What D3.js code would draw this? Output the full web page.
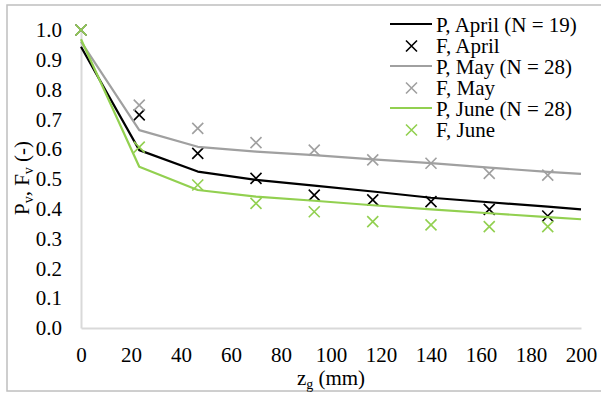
<!DOCTYPE html>
<html>
<head>
<meta charset="utf-8">
<script src="https://cdn.jsdelivr.net/npm/d3@7"></script>
<style>
  body { margin: 0; background: #fff; }
  text { font-family: "Liberation Serif", "Times New Roman", serif; }
</style>
</head>
<body>
<svg id="chart" width="601" height="396"></svg>
<script>
// depths of the measured points (mm) and of the model curve
var zPoints = [0, 23.3, 46.7, 70, 93.3, 116.7, 140, 163.3, 186.7];
var zModel = [0, 23.3, 46.7, 70, 93.3, 116.7, 140, 163.3, 186.7, 200];

var pApril = [0.944, 0.597, 0.525, 0.497, 0.478, 0.458, 0.437, 0.422, 0.407, 0.398];
var pMay = [0.961, 0.664, 0.608, 0.592, 0.580, 0.566, 0.553, 0.538, 0.524, 0.517];
var pJune = [0.969, 0.541, 0.463, 0.441, 0.427, 0.412, 0.398, 0.385, 0.372, 0.365];

var fApril = [1.0, 0.715, 0.586, 0.502, 0.446, 0.430, 0.424, 0.398, 0.376];
var fMay = [1.0, 0.748, 0.670, 0.622, 0.597, 0.564, 0.553, 0.519, 0.513];
var fJune = [1.0, 0.607, 0.480, 0.418, 0.390, 0.357, 0.346, 0.340, 0.340];

var xTicks = [0, 20, 40, 60, 80, 100, 120, 140, 160, 180, 200];
var yTicks = [0, 0.1, 0.2, 0.3, 0.4, 0.5, 0.6, 0.7, 0.8, 0.9, 1.0];

var legendLabels = ["P, April (N = 19)", "F, April", "P, May (N = 28)", "F, May", "P, June (N = 28)", "F, June"];

var black = "#000000", grey = "#a0a0a0", green = "#92d050";
var serif = "Liberation Serif";

var svg = d3.select("#chart");

svg.append("rect")
  .attr("x", 7).attr("y", 5).attr("width", 600).attr("height", 386)
  .attr("fill", "none").attr("stroke", "#bfbfbf").attr("stroke-width", 1.5);

var x = d3.scaleLinear().domain([0, 200]).range([81, 581]);
var y = d3.scaleLinear().domain([0, 1]).range([328, 30]);

// axes
var xAxis = svg.append("g").attr("transform", "translate(0,328)")
  .call(d3.axisBottom(x).tickValues(xTicks).tickSize(0).tickPadding(19).tickSizeOuter(0));
xAxis.attr("font-family", serif);
xAxis.select(".domain").attr("stroke", "#d9d9d9").attr("stroke-width", 2);
xAxis.selectAll("text").attr("font-size", 21).attr("fill", "#000");

var yAxis = svg.append("g").attr("transform", "translate(81,0)")
  .call(d3.axisLeft(y).tickValues(yTicks).tickFormat(d3.format(".1f")).tickSize(0).tickPadding(19).tickSizeOuter(0));
yAxis.attr("font-family", serif);
yAxis.select(".domain").attr("stroke", "#d9d9d9").attr("stroke-width", 2);
yAxis.selectAll("text").attr("font-size", 21).attr("fill", "#000");

// axis titles
var xt = svg.append("text").attr("x", 331).attr("y", 385)
  .attr("text-anchor", "middle").attr("font-family", serif).attr("font-size", 21);
xt.append("tspan").text("z");
xt.append("tspan").attr("font-size", 14).attr("dy", 4).text("g");
xt.append("tspan").attr("dy", -4).text(" (mm)");

var yt = svg.append("text").attr("transform", "translate(29,178) rotate(-90)")
  .attr("text-anchor", "middle").attr("font-family", serif).attr("font-size", 21);
yt.append("tspan").text("P");
yt.append("tspan").attr("font-size", 14).attr("dy", 4).text("v");
yt.append("tspan").attr("dy", -4).text(", F");
yt.append("tspan").attr("font-size", 14).attr("dy", 4).text("v");
yt.append("tspan").attr("dy", -4).text(" (-)");

var line = d3.line()
  .x(function(d, i) { return x(zModel[i]); })
  .y(function(d) { return y(d); });

function cross(g, cx, cy, color) {
  var s = 5.5;
  g.append("path")
    .attr("d", "M" + (cx - s) + "," + (cy - s) + "L" + (cx + s) + "," + (cy + s) +
               "M" + (cx - s) + "," + (cy + s) + "L" + (cx + s) + "," + (cy - s))
    .attr("stroke", color).attr("stroke-width", 1.6).attr("fill", "none");
}

var series = [
  { p: pApril, f: fApril, color: black },
  { p: pMay, f: fMay, color: grey },
  { p: pJune, f: fJune, color: green }
];

var plot = svg.append("g");
series.forEach(function(s) {
  plot.append("path").datum(s.p)
    .attr("d", line)
    .attr("fill", "none").attr("stroke", s.color).attr("stroke-width", 2.2)
    .attr("stroke-linejoin", "round");
  s.f.forEach(function(v, i) {
    cross(plot, x(zPoints[i]), y(v), s.color);
  });
});

// legend
var legend = svg.append("g");
legendLabels.forEach(function(label, i) {
  var base = 31.5 + i * 21;
  var color = series[Math.floor(i / 2)].color;
  if (i % 2 === 0) {
    legend.append("line")
      .attr("x1", 390).attr("x2", 432).attr("y1", base - 7.5).attr("y2", base - 7.5)
      .attr("stroke", color).attr("stroke-width", 2.2);
  } else {
    cross(legend, 411.5, base - 6.5, color);
  }
  legend.append("text").attr("x", 436).attr("y", base)
    .attr("font-family", serif).attr("font-size", 21).text(label);
});
</script>
</body>
</html>
